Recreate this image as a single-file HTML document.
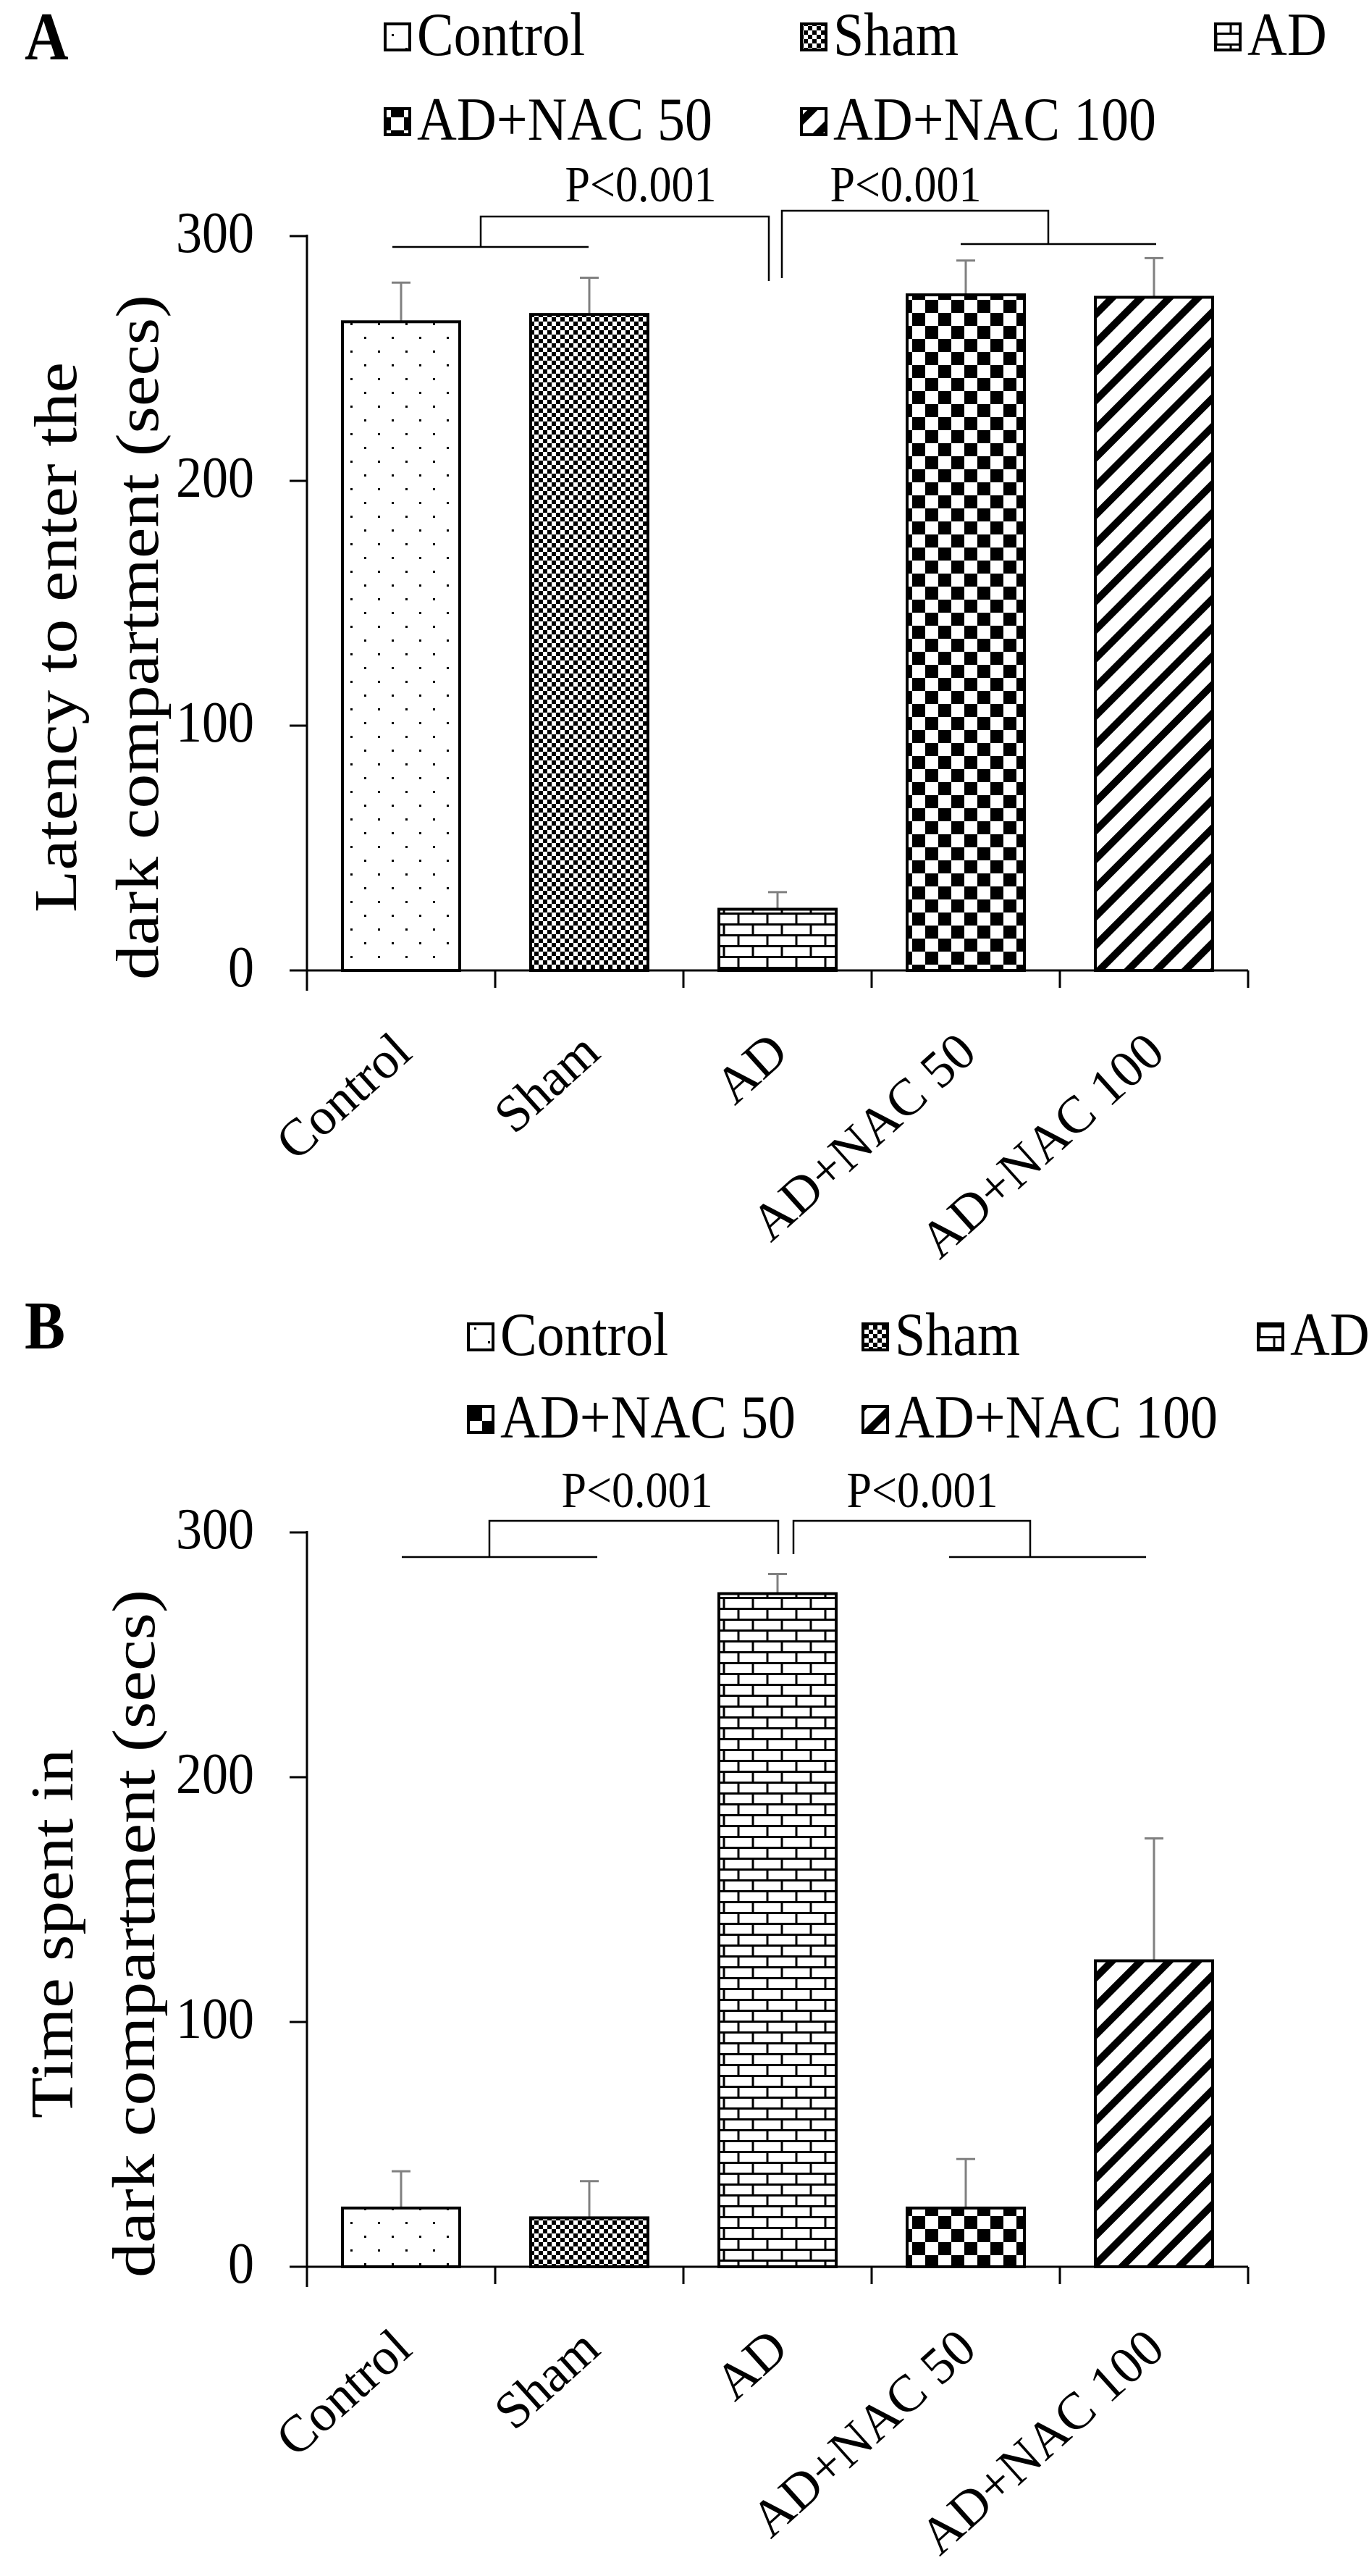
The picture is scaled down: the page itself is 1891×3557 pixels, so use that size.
<!DOCTYPE html>
<html><head><meta charset="utf-8"><style>
html,body{margin:0;padding:0;background:#fff}
svg{display:block}
text{font-family:"Liberation Serif",serif;fill:#000}
</style></head><body>
<svg id="fig" width="1891" height="3557" viewBox="0 0 1891 3557" xmlns="http://www.w3.org/2000/svg">
<defs>
<pattern id="p-dots" width="38" height="38" patternUnits="userSpaceOnUse"><rect width="38" height="38" fill="#fff"/><rect x="9" y="9" width="3" height="3" fill="#000"/><rect x="28" y="28" width="3" height="3" fill="#000"/></pattern>
<pattern id="p-fine" width="12" height="12" patternUnits="userSpaceOnUse"><rect width="12" height="12" fill="#fff"/><rect width="6" height="6" fill="#000"/><rect x="6" y="6" width="6" height="6" fill="#000"/></pattern>
<pattern id="p-brick" width="40" height="30" patternUnits="userSpaceOnUse"><rect width="40" height="30" fill="#fff"/><path d="M0 1.5H40M0 16.5H40M20 0V15M0 15V30M40 15V30" stroke="#000" stroke-width="3" fill="none"/></pattern>
<pattern id="p-check" width="36" height="36" patternUnits="userSpaceOnUse"><rect width="36" height="36" fill="#fff"/><rect width="18" height="18" fill="#000"/><rect x="18" y="18" width="18" height="18" fill="#000"/></pattern>
<pattern id="p-diag" width="28" height="28" patternUnits="userSpaceOnUse" patternTransform="rotate(45)"><rect width="28" height="28" fill="#fff"/><rect width="10" height="28" fill="#000"/></pattern>
</defs>
<g id="charts"></g>
</svg>
<script>
const categories = ["Control","Sham","AD","AD+NAC 50","AD+NAC 100"];
const patterns = ["p-dots","p-fine","p-brick","p-check","p-diag"];
const latencyMeans = [265,268,25,276,275];
const latencyErr = [16,15,7,14,16];
const timeMeans = [24,20,275,24,125];
const timeErr = [15,15,8,20,50];
const yTicks = [0,100,200,300];
const NS="http://www.w3.org/2000/svg";
const root=document.getElementById('charts');
function mk(tag,attrs,parent){const e=document.createElementNS(NS,tag);for(const k in attrs)e.setAttribute(k,attrs[k]);(parent||root).appendChild(e);return e;}
function txt(s,attrs,parent){const e=mk('text',attrs,parent);e.textContent=s;return e;}
function stxt(s,x,y,attrs,parent){const a=Object.assign({x:0,y:0,transform:`translate(${x} ${y}) scale(1 1.12)`},attrs);return txt(s,a,parent);}

function panel(cfg){
  const g=mk('g',{});
  
  
  const x0=424,x1=1724,y0=cfg.y0,unit=(cfg.y0-cfg.y300)/300,yScale=v=>y0-v*unit;
  const bw=(x1-x0)/categories.length;
  const xc=i=>x0+bw*(i+0.5);
  const L=stxt(cfg.letter,34,cfg.letterY,{'font-size':84,'font-weight':'bold'},g);
  
  
  const legPos=[[cfg.lx[0],cfg.legY[0]],[cfg.lx[1],cfg.legY[0]],[cfg.lx[2],cfg.legY[0]],[cfg.lx[0],cfg.legY[1]],[cfg.lx[1],cfg.legY[1]]];
  categories.forEach((c,i)=>{
    const lg=mk('g',{},g);
    
    
    mk('rect',{x:legPos[i][0]-44,y:legPos[i][1]-18,width:34,height:36,fill:'url(#'+patterns[i]+')',stroke:'#000','stroke-width':4},lg);
    stxt(c,legPos[i][0],legPos[i][1]+25,{'font-size':76},lg);
  });
  const ax=mk('g',{},g);
  
  
  mk('line',{x1:x0,y1:yScale(300)-2,x2:x0,y2:y0+28,stroke:'#000','stroke-width':3},ax);
  yTicks.forEach(t=>{
    mk('line',{x1:x0-24,y1:yScale(t),x2:x0,y2:yScale(t),stroke:'#000','stroke-width':3},ax);
    const tl=stxt(String(t),351,yScale(t)+22,{'font-size':72,'text-anchor':'end'},ax);
    
    
  });
  const xa=mk('g',{},g);
  
  
  mk('line',{x1:x0,y1:y0,x2:x1,y2:y0,stroke:'#000','stroke-width':3},xa);
  for(let i=0;i<=categories.length;i++) mk('line',{x1:x0+bw*i,y1:y0,x2:x0+bw*i,y2:y0+24,stroke:'#000','stroke-width':3},xa);
  categories.forEach((c,i)=>{
    const cx=xc(i)+18,cy=y0+118;
    const t=txt(c,{x:0,y:0,'font-size':72,'text-anchor':'end',transform:`translate(${cx} ${cy}) rotate(-42)`},xa);
    
    
  });
  cfg.means.forEach((v,i)=>{
    const bg=mk('g',{},g);
    
    
    const top=yScale(v),etop=yScale(v+cfg.err[i]);
    mk('line',{x1:xc(i),y1:top,x2:xc(i),y2:etop,stroke:'#808080','stroke-width':3},bg);
    mk('line',{x1:xc(i)-13,y1:etop,x2:xc(i)+13,y2:etop,stroke:'#808080','stroke-width':3},bg);
    mk('rect',{x:xc(i)-81,y:top,width:162,height:y0-top,fill:'url(#'+patterns[i]+')',stroke:'#000','stroke-width':4},bg);
  });
  const ty=cfg.titleY;
  const yt=mk('g',{},g);
  
  
  txt(cfg.title[0],{x:cfg.tx[0],y:ty,'font-size':84,'text-anchor':'middle',transform:`rotate(-90 ${cfg.tx[0]} ${ty})`,textLength:cfg.tl[0],lengthAdjust:'spacingAndGlyphs'},yt);
  txt(cfg.title[1],{x:cfg.tx[1],y:ty,'font-size':84,'text-anchor':'middle',transform:`rotate(-90 ${cfg.tx[1]} ${ty})`,textLength:cfg.tl[1],lengthAdjust:'spacingAndGlyphs'},yt);
  const br=mk('g',{},g);
  
  
  cfg.brackets.forEach(d=>mk('path',{d:d,stroke:'#000','stroke-width':2.5,fill:'none'},br));
  cfg.pLabels.forEach(p=>{const t=stxt('P<0.001',p[0],p[1],{'font-size':62,'text-anchor':'middle'},br);});
}

panel({name:'panel-a-latency-chart',letter:'A',letterY:82,legY:[51,168],lx:[576,1151,1723],y0:1340,y300:326,means:latencyMeans,err:latencyErr,
  title:['Latency to enter the','dark compartment (secs)'],tx:[105,218],titleY:880,tl:[760,946],
  brackets:['M542 341H813','M664 341V299H1062V388','M1080 384V291H1448V337','M1327 337H1597'],
  pLabels:[[885,278],[1251,278]]});
panel({name:'panel-b-time-chart',letter:'B',letterY:1862,legY:[1846,1960],lx:[691,1236,1782],y0:3130,y300:2116,means:timeMeans,err:timeErr,
  title:['Time spent in','dark compartment (secs)'],tx:[100,213],titleY:2670,tl:[510,950],
  brackets:['M555 2150H825','M676 2150V2100H1075V2146','M1096 2146V2100H1423V2150','M1311 2150H1583'],
  pLabels:[[880,2081],[1274,2081]]});
</script>
</body></html>
